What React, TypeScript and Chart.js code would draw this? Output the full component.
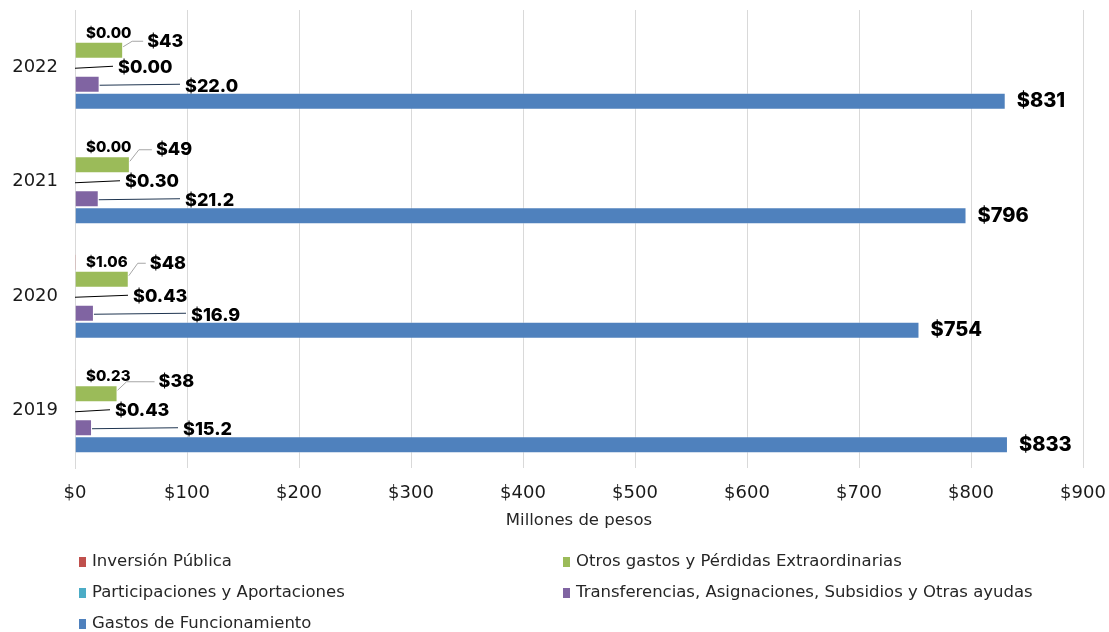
import React, { useEffect, useRef } from 'react';
import { Chart, registerables } from 'chart.js';

Chart.register(...registerables);

const categories = ['2022', '2021', '2020', '2019'];
const seriesNames = [
  'Inversión Pública',
  'Otros gastos y Pérdidas Extraordinarias',
  'Participaciones y Aportaciones',
  'Transferencias, Asignaciones, Subsidios y Otras ayudas',
  'Gastos de Funcionamiento',
];
const inversionPublica = [0.0, 0.0, 1.06, 0.23];
const otrosGastos = [43, 49, 48, 38];
const participaciones = [0.0, 0.3, 0.43, 0.43];
const transferencias = [22.0, 21.2, 16.9, 15.2];
const gastosFuncionamiento = [831, 796, 754, 833];
const xMax = 900;
const xStep = 100;

const seriesColors = ['#c0504d', '#9bbb59', '#4bacc6', '#8064a2', '#4f81bd'];
const labelDecimals = [2, 0, 2, 1, 0];

// label nudges (pixels) relative to library positions
const otrosTextDx = [24, 26, 21, 41];
const otrosTextDy = [-9, -15, -16, -12];
const partTextDx = [43, 50, 58, 40];
const transTextDx = [110, 110, 116, 108];

const LABEL_FONT = 'Inter, "DejaVu Sans", sans-serif';
const AXIS_FONT = '"DejaVu Sans", "Open Sans", sans-serif';

const fmt = (v: number, d: number) => '$' + v.toFixed(d);

const labelPlugin = {
  id: 'customLabels',
  afterDatasetsDraw(chart: any) {
    const ctx = chart.ctx;
    const x0 = chart.scales.x.getPixelForValue(0);
    ctx.save();
    ctx.textBaseline = 'middle';
    ctx.fillStyle = '#000';
    chart.data.datasets.forEach((ds: any, di: number) => {
      const meta = chart.getDatasetMeta(di);
      meta.data.forEach((el: any, i: number) => {
        const v = ds.data[i];
        const txt = fmt(v, labelDecimals[di]);
        const end = el.x;
        const cy = el.y;
        const top = cy - el.height / 2;
        if (di === 0) {
          ctx.font = `800 15px ${LABEL_FONT}`;
          ctx.textAlign = 'left';
          ctx.fillText(txt, x0 + 11, cy);
        } else if (di === 1) {
          const tx = end + otrosTextDx[i];
          const ty = cy + otrosTextDy[i];
          ctx.strokeStyle = '#a6a6a6';
          ctx.lineWidth = 1;
          ctx.beginPath();
          ctx.moveTo(end, top + 5);
          ctx.lineTo(end + 9, ty);
          ctx.lineTo(tx - 4, ty);
          ctx.stroke();
          ctx.font = `800 18px ${LABEL_FONT}`;
          ctx.textAlign = 'left';
          ctx.fillText(txt, tx, ty);
        } else if (di === 2) {
          const tx = x0 + partTextDx[i];
          ctx.strokeStyle = '#000';
          ctx.lineWidth = 1;
          ctx.beginPath();
          ctx.moveTo(x0, cy + 1);
          ctx.lineTo(tx - 5, cy - 1);
          ctx.stroke();
          ctx.font = `800 18px ${LABEL_FONT}`;
          ctx.textAlign = 'left';
          ctx.fillText(txt, tx, cy);
        } else if (di === 3) {
          const tx = x0 + transTextDx[i];
          ctx.strokeStyle = '#1f3550';
          ctx.lineWidth = 1;
          ctx.beginPath();
          ctx.moveTo(end, cy + 1);
          ctx.lineTo(tx - 5, cy);
          ctx.stroke();
          ctx.font = `800 18px ${LABEL_FONT}`;
          ctx.textAlign = 'left';
          ctx.fillText(txt, tx, cy + 2);
        } else {
          ctx.font = `800 20px ${LABEL_FONT}`;
          ctx.textAlign = 'left';
          ctx.fillText(txt, end + 11, cy);
        }
      });
    });
    ctx.restore();
  },
};

const legendPlugin = {
  id: 'customLegend',
  afterDraw(chart: any) {
    const ctx = chart.ctx;
    ctx.save();
    ctx.font = `16.5px ${AXIS_FONT}`;
    ctx.textBaseline = 'middle';
    ctx.textAlign = 'left';
    const cols = [79, 563];
    const rows = [562, 593, 624];
    seriesNames.forEach((name, i) => {
      const col = i % 2;
      const row = Math.floor(i / 2);
      const sx = cols[col];
      const sy = rows[row];
      ctx.fillStyle = seriesColors[i];
      ctx.fillRect(sx, sy - 5, 7, 10);
      ctx.fillStyle = '#262626';
      ctx.fillText(name, sx + 13, sy);
    });
    ctx.restore();
  },
};

export default function App() {
  const ref = useRef<HTMLCanvasElement>(null);
  useEffect(() => {
    if (!ref.current) return;
    const seriesData = [inversionPublica, otrosGastos, participaciones, transferencias, gastosFuncionamiento];
    const chart = new Chart(ref.current, {
      type: 'bar',
      data: {
        labels: categories,
        datasets: seriesNames.map((name, i) => ({
          label: name,
          data: seriesData[i],
          backgroundColor: seriesColors[i],
          borderColor: 'rgba(255,255,255,0.35)',
          borderWidth: 1,
          categoryPercentage: 0.742,
          barPercentage: 1,
        })),
      },
      options: {
        indexAxis: 'y',
        animation: false,
        responsive: false,
        layout: { padding: { top: 10, right: 26, bottom: 94, left: 0 } },
        plugins: { legend: { display: false }, tooltip: { enabled: false } },
        scales: {
          x: {
            min: 0,
            max: xMax,
            ticks: {
              stepSize: xStep,
              callback: (v: any) => '$' + v,
              font: { family: AXIS_FONT, size: 18 },
              color: '#1a1a1a',
              padding: 15,
              maxRotation: 0,
            },
            grid: { color: '#d9d9d9', drawTicks: false },
            border: { display: false },
            title: {
              display: true,
              text: 'Millones de pesos',
              font: { family: AXIS_FONT, size: 16.5 },
              color: '#262626',
              padding: { top: 0, bottom: 7 },
            },
            afterFit: (s: any) => {
              s.height = 70;
              s.paddingLeft = 0;
              s.paddingRight = 0;
            },
          },
          y: {
            ticks: {
              font: { family: AXIS_FONT, size: 18 },
              color: '#1a1a1a',
              padding: 17,
            },
            grid: { display: false, drawTicks: false },
            border: { display: true, color: '#d9d9d9' },
            afterFit: (s: any) => {
              s.width = 75;
              s.paddingTop = 0;
              s.paddingBottom = 0;
            },
          },
        },
      },
      plugins: [labelPlugin, legendPlugin],
    });
    return () => chart.destroy();
  }, []);
  return (
    <div style={{ position: 'absolute', left: 0, top: 0, width: 1109, height: 632, background: '#fff' }}>
      <canvas ref={ref} width={1109} height={632} />
    </div>
  );
}
